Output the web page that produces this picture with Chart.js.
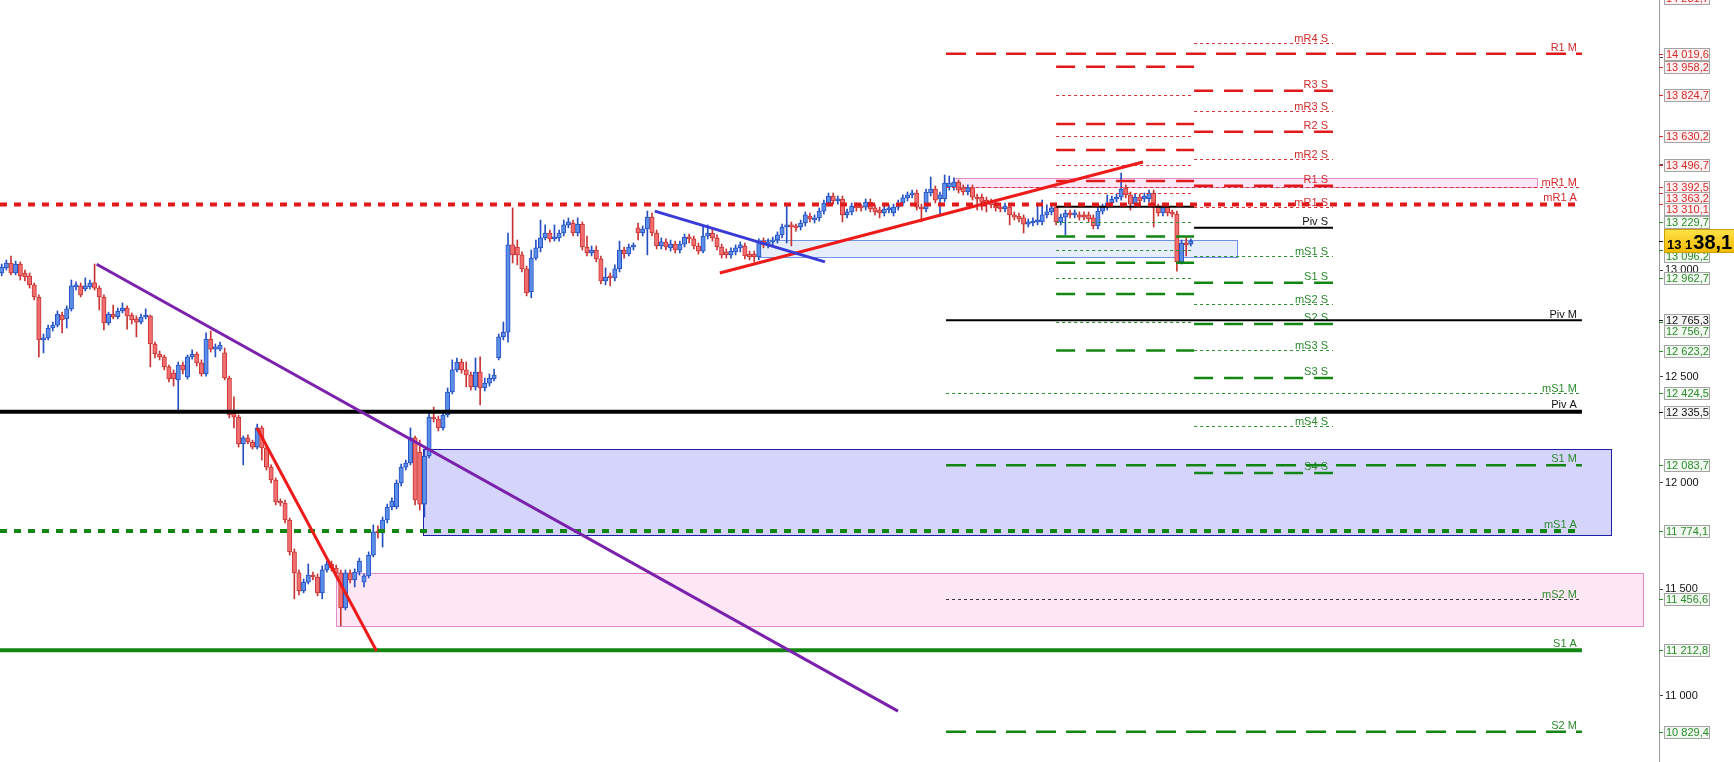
<!DOCTYPE html>
<html><head><meta charset="utf-8">
<script src="https://cdn.jsdelivr.net/npm/chart.js@4.4.0/dist/chart.umd.min.js"></script>
<style>html,body{margin:0;padding:0;background:#fff;overflow:hidden}#wrap{width:1734px;height:762px}</style>
</head><body><div id="wrap"><canvas id="c" width="1734" height="762"></canvas></div>
<script>
// ---- candle data (4h bars) ----
const openP = [
12988,13012,13035,12988,13030,12988,12974,12932,12875,12673,
12682,12729,12743,12790,12772,12819,12922,12927,12913,12922,
12941,12917,12875,12753,12795,12781,12809,12823,12790,12772,
12757,12781,12786,12654,12607,12593,12546,12517,12485,12555,
12499,12593,12607,12565,12513,12677,12630,12630,12612,12494,
12329,12310,12184,12212,12193,12169,12259,12165,12075,12014,
11911,11906,11826,11676,11577,11492,11534,11567,11558,11483,
11591,11619,11600,11577,11412,11577,11544,11581,11534,11563,
11661,11774,11765,11826,11887,11887,12000,12075,12094,12212,
12146,11901,12127,12310,12301,12259,12320,12428,12532,12569,
12532,12508,12452,12522,12447,12470,12489,12588,12687,12710,
13120,13110,13073,13007,12899,13058,13106,13153,13176,13148,
13153,13176,13214,13223,13176,13218,13110,13082,13096,13054,
12950,12974,12965,13007,13096,13077,13110,13200,13176,13195,
13251,13176,13115,13134,13106,13124,13096,13124,13157,13148,
13115,13091,13162,13176,13153,13110,13087,13073,13087,13106,
13115,13077,13077,13063,13138,13120,13134,13143,13167,13204,
13214,13204,13204,13223,13256,13237,13247,13279,13317,13350,
13327,13336,13261,13275,13303,13298,13298,13322,13294,13284,
13270,13284,13270,13298,13317,13341,13355,13364,13298,13289,
13364,13383,13336,13336,13392,13392,13416,13388,13369,13388,
13345,13345,13331,13322,13317,13298,13289,13298,13261,13256,
13247,13218,13223,13228,13228,13261,13275,13298,13228,13251,
13270,13261,13261,13261,13261,13247,13209,13279,13298,13317,
13336,13345,13388,13355,13312,13345,13336,13336,13364,13298,
13270,13298,13270,13265,13040,13129,13124];
const highP = [
13030,13049,13068,13044,13040,13002,12988,12941,12885,12701,
12743,12757,12809,12804,12833,12955,12946,12941,12965,12955,
13030,12927,12885,12804,12837,12823,12847,12833,12800,12786,
12795,12819,12790,12663,12621,12602,12555,12532,12569,12569,
12602,12626,12616,12579,12706,12715,12654,12663,12635,12503,
12405,12320,12221,12226,12202,12277,12268,12174,12085,12024,
11925,11920,11835,11690,11591,11549,11619,11581,11572,11610,
11633,11633,11614,11591,11591,11591,11596,11647,11572,11676,
11803,11798,11840,11901,11930,12014,12089,12108,12259,12221,
12202,12155,12325,12357,12315,12334,12447,12579,12588,12583,
12569,12522,12588,12593,12494,12513,12536,12701,12757,13176,
13294,13143,13087,13021,13096,13143,13237,13214,13190,13214,
13190,13237,13247,13237,13247,13228,13162,13115,13115,13068,
13012,12988,13026,13138,13110,13124,13129,13223,13209,13279,
13270,13190,13153,13148,13143,13138,13138,13171,13171,13162,
13129,13209,13214,13200,13167,13124,13101,13106,13120,13134,
13129,13091,13091,13148,13153,13148,13157,13181,13218,13308,
13228,13218,13237,13275,13270,13261,13294,13331,13364,13364,
13350,13350,13289,13317,13317,13312,13336,13336,13308,13298,
13303,13308,13312,13331,13355,13369,13378,13378,13312,13383,
13439,13397,13369,13449,13444,13435,13425,13402,13402,13402,
13359,13359,13345,13336,13331,13312,13317,13312,13275,13270,
13261,13242,13247,13308,13331,13308,13308,13308,13265,13284,
13284,13284,13275,13275,13275,13261,13294,13312,13355,13350,
13359,13458,13402,13369,13359,13359,13364,13378,13378,13312,
13312,13312,13284,13279,13143,13153,13148];
const lowP = [
12974,13002,12979,12979,12955,12950,12917,12861,12593,12612,
12673,12715,12734,12706,12729,12809,12908,12875,12903,12913,
12908,12814,12720,12743,12772,12772,12800,12724,12748,12687,
12748,12772,12546,12588,12579,12532,12475,12456,12334,12513,
12489,12583,12550,12503,12503,12616,12593,12621,12485,12306,
12259,12169,12085,12184,12160,12160,12108,12061,12000,11897,
11892,11812,11661,11455,11473,11483,11525,11544,11469,11455,
11581,11586,11563,11328,11403,11530,11511,11567,11511,11553,
11652,11741,11699,11812,11873,11878,11986,12061,12085,11897,
11873,11840,12118,12287,12245,12249,12310,12419,12522,12517,
12452,12437,12437,12367,12433,12456,12480,12579,12673,12663,
13035,13026,12993,12880,12871,13049,13087,13143,13134,13138,
13138,13162,13200,13162,13162,13096,13068,13068,13040,12936,
12932,12927,12950,12993,13058,13068,13096,13143,13162,13073,
13162,13101,13101,13096,13091,13082,13082,13110,13129,13101,
13077,13082,13148,13138,13096,13058,13058,13058,13073,13087,
13054,13049,13040,13049,13106,13106,13120,13129,13153,13129,
13115,13185,13190,13209,13228,13223,13232,13265,13303,13312,
13312,13228,13247,13261,13279,13279,13284,13275,13261,13247,
13256,13270,13256,13284,13303,13327,13341,13284,13228,13275,
13350,13317,13256,13322,13378,13378,13364,13355,13355,13331,
13284,13284,13275,13294,13279,13275,13275,13214,13237,13228,
13176,13204,13209,13214,13214,13247,13261,13214,13214,13167,
13247,13247,13237,13237,13228,13195,13195,13265,13284,13303,
13322,13331,13341,13284,13298,13312,13322,13322,13204,13256,
13256,13256,13251,12997,13030,13068,13115];
const closeP = [
13016,13035,12988,13030,12974,12969,12932,12875,12673,12682,
12729,12743,12795,12767,12819,12927,12932,12885,12927,12941,
12917,12875,12753,12795,12781,12809,12823,12786,12767,12757,
12781,12786,12654,12607,12593,12546,12489,12489,12555,12532,
12593,12607,12565,12513,12677,12630,12640,12649,12494,12320,
12310,12184,12212,12193,12169,12259,12165,12075,12014,11911,
11906,11826,11676,11577,11492,11534,11567,11558,11483,11591,
11619,11600,11577,11412,11577,11544,11581,11633,11563,11661,
11770,11765,11826,11887,11915,12000,12075,12094,12212,11920,
11901,12127,12310,12301,12259,12320,12428,12532,12569,12532,
12508,12452,12522,12447,12470,12494,12508,12687,12710,13120,
13073,13073,13007,12894,13058,13106,13153,13176,13148,13157,
13176,13214,13228,13176,13218,13110,13082,13096,13054,12950,
12969,12965,13007,13096,13077,13110,13115,13176,13195,13251,
13176,13115,13134,13110,13124,13096,13124,13157,13148,13115,
13091,13162,13176,13153,13110,13073,13073,13091,13106,13120,
13068,13063,13063,13134,13120,13134,13143,13167,13204,13214,
13204,13200,13223,13261,13242,13247,13279,13317,13350,13327,
13336,13261,13275,13303,13294,13294,13322,13289,13275,13270,
13289,13294,13298,13317,13341,13355,13364,13298,13289,13369,
13383,13331,13355,13411,13411,13416,13378,13369,13388,13345,
13336,13322,13312,13308,13294,13289,13303,13261,13251,13242,
13218,13228,13232,13237,13261,13275,13294,13228,13251,13270,
13261,13270,13251,13251,13242,13209,13279,13298,13317,13336,
13345,13383,13355,13312,13345,13327,13350,13364,13298,13270,
13298,13270,13265,13040,13129,13120,13138.1];

// ---- pivot levels ----
const annualNames  = ['mR1 A','Piv A','mS1 A','S1 A'];
const annualValues = [13310.1,12335.5,11774.1,11212.8];
const monthNames   = ['R1 M','mR1 M','Piv M','mS1 M','S1 M','mS2 M','S2 M'];
const monthValues  = [14019.6,13392.5,12765.3,12424.5,12083.7,11456.6,10829.4];
const weekNames    = ['mR4 S','R3 S','mR3 S','R2 S','mR2 S','R1 S','mR1 S','Piv S','mS1 S','S1 S','mS2 S','S2 S','mS3 S','S3 S','mS4 S','S4 S'];
const weekValues   = [14068,13845,13751,13652,13523,13398,13300,13201,13068,12942,12842,12748,12627,12494,12268,12047];
const prevWeekNames  = ['R4','mR4','R3','mR3','R2','mR2','R1','mR1','Piv','mS1','S1','mS2','S2','mS3','S3','mS4','S4'];
const prevWeekValues = [13958.2,13824.7,13689,13630.2,13566,13496.7,13420,13363.2,13300,13229.7,13159,13096.2,13036,12962.7,12889,12756.7,12623.2];
// period boundaries (bar index)
const monthStart = 203.3, prevWeekStart = 227.0, weekStart = 256.7, weekEnd = 286.6, periodEnd = 340.2;

// ---- axis ----
const axisTicks = [11000,11500,12000,12500,13000,13500,14000];
const axisLabelValues = [14281.7,14019.6,13958.2,13824.7,13630.2,13496.7,13392.5,13363.2,13310.1,13229.7,13096.2,12962.7,12765.3,12756.7,12623.2,12424.5,12335.5,12083.7,11774.1,11456.6,11212.8,10829.4];
const axisLabelKinds  = ['r','r','r','r','r','r','r','r','r','s','s','s','p','s','s','s','p','s','s','s','s','s'];

// ---- zones ----
const zoneStart = [90.7,71.97,163.25,205.0];
const zoneEnd   = [346.5,353.35,265.94,330.5];
const zoneLow   = [11755,11327,13065,13392.5];
const zoneHigh  = [12160,11577,13143,13435];
const zoneKind  = ['blue','pink','light','pink'];

// ---- trend lines ----
const trendX1 = [20.45,54.96,140.6,154.6];
const trendY1 = [13029,12259,13279,12988];
const trendX2 = [192.96,80.7,177.24,245.7];
const trendY2 = [10927,11210,13040,13510];
const trendColor = ['#7b22ac','#ee1b1b','#3a3ad8','#ee1b1b'];

// ---- view ----
const X_MIN = -0.366, X_MAX = 356.79, Y_MIN = 10687.6, Y_MAX = 14272.0;

const FONT = '"Liberation Sans", Arial, sans-serif';
const CANDLE = {bullFill:'#5b8ee8', bullLine:'#2450c2', bearFill:'#f26e6e', bearLine:'#c83434'};
const PAL = {red:'#e01a1a', green:'#128612', black:'#000', redThin:'#d63434', greenThin:'#2a8f2a',
             redText:'#d42a2a', greenText:'#2b8a2b', blackText:'#111'};
const ZONE = {blue:['#d5d5fb','#1f1fa6'], pink:['#fde7f4','#e48cc8'], light:['#e6eefc','#6f93e4']};

const N = closeP.length;
const idx = closeP.map((_, i) => i);
const isBull = i => closeP[i] >= openP[i];
const grp = s => s.replace(/\B(?=(\d{3})+(?!\d))/g, ' ');
const fmt = v => { const p = v.toFixed(1).split('.'); return grp(p[0]) + ',' + p[1]; };

function levelStyle(name, period) {
  const minor = name.charAt(0) === 'm';
  const key = minor ? name.charAt(1) : name.charAt(0);
  const kind = key === 'R' ? 'r' : key === 'S' ? 's' : 'p';
  let color, width, dash;
  if (kind === 'p') { color = PAL.black; }
  else if (period === 'A' || !minor) { color = kind === 'r' ? PAL.red : PAL.green; }
  else { color = kind === 'r' ? PAL.redThin : PAL.greenThin; }
  if (period === 'A') { width = 4; dash = (minor && kind !== 'p') ? [7, 7] : []; }
  else if (kind === 'p') { width = 2; dash = []; }
  else if (minor) { width = 1; dash = [3, 3]; }
  else { width = 2.5; dash = period === 'M' ? [20, 10] : [19, 11]; }
  if (name === 'mS2 M') color = '#3a3a3a';
  const text = kind === 'r' ? PAL.redText : kind === 's' ? PAL.greenText : PAL.blackText;
  return {color, width, dash, text};
}

function drawLevelSet(chart, names, values, from, to, period, labelled) {
  const ctx = chart.ctx, xs = chart.scales.x, ys = chart.scales.y;
  const x0 = xs.getPixelForValue(from), x1 = xs.getPixelForValue(to);
  names.forEach((nm, i) => {
    const st = levelStyle(nm, period);
    let y = ys.getPixelForValue(values[i]);
    if (st.width === 1) y = Math.round(y) + 0.5;
    ctx.save();
    ctx.strokeStyle = st.color; ctx.lineWidth = st.width; ctx.setLineDash(st.dash);
    ctx.beginPath(); ctx.moveTo(x0, y); ctx.lineTo(x1, y); ctx.stroke();
    if (labelled) {
      ctx.setLineDash([]);
      ctx.fillStyle = st.text; ctx.font = '11px ' + FONT;
      ctx.textAlign = 'right'; ctx.textBaseline = 'alphabetic';
      ctx.fillText(nm, x1 - 5, y - st.width / 2 - 1.5);
    }
    ctx.restore();
  });
}

const overlay = {
  id: 'overlay',
  beforeDatasetsDraw(chart) {
    const ctx = chart.ctx, xs = chart.scales.x, ys = chart.scales.y, a = chart.chartArea;
    ctx.save();
    ctx.beginPath(); ctx.rect(a.left, a.top, a.right - a.left, a.bottom - a.top); ctx.clip();
    zoneStart.forEach((s, i) => {
      const x0 = Math.round(xs.getPixelForValue(s)), x1 = Math.round(xs.getPixelForValue(zoneEnd[i]));
      const y0 = Math.round(ys.getPixelForValue(zoneHigh[i])), y1 = Math.round(ys.getPixelForValue(zoneLow[i]));
      const z = ZONE[zoneKind[i]];
      ctx.fillStyle = z[0]; ctx.fillRect(x0, y0, x1 - x0, y1 - y0);
      ctx.strokeStyle = z[1]; ctx.lineWidth = 1; ctx.strokeRect(x0 + 0.5, y0 + 0.5, x1 - x0, y1 - y0);
    });
    ctx.restore();
  },
  afterDatasetDraw(chart, args) {
    if (args.index !== 1) return;
    const ctx = chart.ctx, a = chart.chartArea;
    ctx.save();
    ctx.beginPath(); ctx.rect(a.left, a.top, a.right - a.left, a.bottom - a.top); ctx.clip();
    drawLevelSet(chart, prevWeekNames, prevWeekValues, prevWeekStart, weekStart, 'S', false);
    drawLevelSet(chart, weekNames, weekValues, weekStart, weekEnd, 'S', true);
    drawLevelSet(chart, monthNames, monthValues, monthStart, periodEnd, 'M', true);
    drawLevelSet(chart, annualNames, annualValues, chart.scales.x.min, periodEnd, 'A', true);
    ctx.restore();
  },
  afterDraw(chart) {
    const ctx = chart.ctx, ys = chart.scales.y, ax = chart.chartArea.right, W = chart.width;
    const priceY = ys.getPixelForValue(closeP[N - 1]);
    const items = axisLabelValues.map((v, i) => ({v, k: axisLabelKinds[i], ty: ys.getPixelForValue(v)}))
                                  .sort((p, q) => p.ty - q.ty);
    let prev = -1e9;
    items.forEach(it => {
      let y = Math.max(it.ty, prev + 11);
      if (Math.abs(y - priceY) < 15) y = priceY + 15;
      it.y = y; prev = y;
    });
    ctx.save();
    const tc = {r: PAL.redText, s: PAL.greenText, p: PAL.blackText};
    const fc = {r: '#fdf1f1', s: '#f0f8f0', p: '#f6f6f6'};
    items.forEach(it => {
      ctx.strokeStyle = tc[it.k]; ctx.lineWidth = 1;
      ctx.beginPath(); ctx.moveTo(ax, Math.round(it.ty) + 0.5); ctx.lineTo(ax + 4, Math.round(it.ty) + 0.5); ctx.stroke();
    });
    items.forEach(it => {
      const top = Math.round(it.y - 6);
      ctx.fillStyle = fc[it.k]; ctx.fillRect(ax + 5, top, 45, 12);
      ctx.strokeStyle = '#a4a4a4'; ctx.strokeRect(ax + 5.5, top + 0.5, 45, 12);
      ctx.fillStyle = tc[it.k]; ctx.font = '11px ' + FONT;
      ctx.textAlign = 'left'; ctx.textBaseline = 'middle';
      ctx.fillText(fmt(it.v), ax + 7, top + 6.5);
    });
    // current price
    const top = Math.round(priceY - 12);
    const g = ctx.createLinearGradient(0, top, 0, top + 24);
    g.addColorStop(0, '#ffe34a'); g.addColorStop(1, '#f1b800');
    ctx.fillStyle = g; ctx.fillRect(ax + 5, top, W - ax - 5, 24);
    ctx.strokeStyle = '#c9a000'; ctx.strokeRect(ax + 5.5, top + 0.5, W - ax - 5, 23);
    ctx.strokeStyle = '#000'; ctx.beginPath(); ctx.moveTo(ax, Math.round(priceY) + 0.5); ctx.lineTo(ax + 4, Math.round(priceY) + 0.5); ctx.stroke();
    const s = fmt(closeP[N - 1]);
    const small = s.slice(0, s.length - 4), big = s.slice(s.length - 4);
    ctx.fillStyle = '#000'; ctx.textAlign = 'left'; ctx.textBaseline = 'alphabetic';
    ctx.font = 'bold 13px ' + FONT; ctx.fillText(small, ax + 8, priceY + 8);
    const w = ctx.measureText(small).width;
    ctx.font = 'bold 20px ' + FONT; ctx.fillText(big, ax + 9 + w, priceY + 8);
    ctx.restore();
  }
};

const datasets = [
  { label: 'wicks', data: idx.map(i => ({x: i, y: [lowP[i], highP[i]]})),
    backgroundColor: idx.map(i => isBull(i) ? CANDLE.bullLine : CANDLE.bearLine),
    borderWidth: 0, grouped: false, barPercentage: 1, categoryPercentage: 1,
    maxBarThickness: 1, minBarLength: 1, order: 3 },
  { label: 'bodies', data: idx.map(i => ({x: i, y: [openP[i], closeP[i]]})),
    backgroundColor: idx.map(i => isBull(i) ? CANDLE.bullFill : CANDLE.bearFill),
    borderColor: idx.map(i => isBull(i) ? CANDLE.bullLine : CANDLE.bearLine),
    borderWidth: 1, borderSkipped: false, grouped: false, barPercentage: 1, categoryPercentage: 1,
    maxBarThickness: 4.4, minBarLength: 2, order: 2 }
];
trendX1.forEach((x, i) => datasets.push({
  type: 'line', label: 'trend' + i,
  data: [{x: x, y: trendY1[i]}, {x: trendX2[i], y: trendY2[i]}],
  borderColor: trendColor[i], borderWidth: 3, pointRadius: 0, fill: false, tension: 0, order: 1
}));

new Chart(document.getElementById('c'), {
  type: 'bar',
  data: { datasets },
  options: {
    responsive: false, animation: false, events: [],
    layout: { padding: 0 },
    plugins: { legend: { display: false }, tooltip: { enabled: false } },
    scales: {
      x: { type: 'linear', display: false, min: X_MIN, max: X_MAX, offset: false },
      y: { position: 'right', min: Y_MIN, max: Y_MAX,
           grid: { display: true, drawOnChartArea: false, drawTicks: true, tickLength: 4, color: '#444' },
           border: { display: true, color: '#9a9a9a' },
           ticks: { autoSkip: false, color: '#111', padding: 2,
                    font: { family: FONT, size: 11 },
                    callback: v => axisLabelValues.some(a => Math.abs(a - v) < 25) ? '' : grp(String(v)) },
           afterBuildTicks(s) { s.ticks = axisTicks.map(v => ({value: v})); },
           afterFit(s) { s.width = 75; s.paddingTop = 0; s.paddingBottom = 0; } }
    }
  },
  plugins: [overlay]
});
</script></body></html>
